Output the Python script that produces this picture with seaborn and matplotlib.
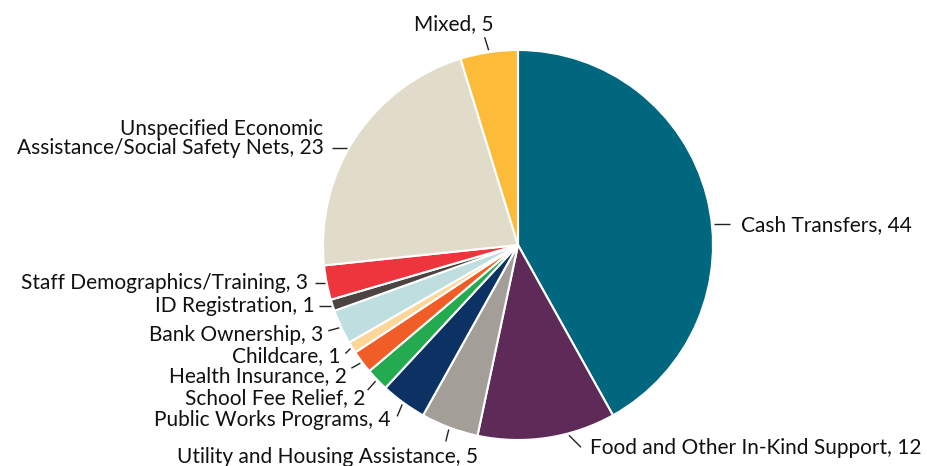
import numpy as np
import matplotlib
matplotlib.use("Agg")
import matplotlib.pyplot as plt
import seaborn as sns

# ---- data (clockwise from 12 o'clock) ----
categories = [
    "Cash Transfers",
    "Food and Other In-Kind Support",
    "Utility and Housing Assistance",
    "Public Works Programs",
    "School Fee Relief",
    "Health Insurance",
    "Childcare",
    "Bank Ownership",
    "ID Registration",
    "Staff Demographics/Training",
    "Unspecified Economic\nAssistance/Social Safety Nets",
    "Mixed",
]
values = [44, 12, 5, 4, 2, 2, 1, 3, 1, 3, 23, 5]
colors = [
    "#00677F", "#5E2A57", "#A39F98", "#0B3263", "#24AA4F", "#F15D27",
    "#FDD699", "#BEDEE0", "#4C4441", "#EE353E", "#E1DCCA", "#FDBB3A",
]

# ---- label layout (pixels): angle override, leader vector, text offset, align ----
layout = [
    (6.0,   (16, 0),   (11, 6.5),  "left"),
    (-75.0, (12, 12),  (9, 7),     "left"),
    (None,  (-3, 12),  (32, 22),   "right"),
    (None,  (-5, 12),  (-7, 10),   "right"),
    (None,  (-8, 9),   (-2, 14),   "right"),
    (None,  (-9, 5),   (-4, 14),   "right"),
    (None,  (-5, 5),   (-5, 9),    "right"),
    (None,  (-11, 3),  (-5, 10),   "right"),
    (None,  (-12, 0),  (-4, 6),    "right"),
    (None,  (-10, 0),  (-7, 6),    "right"),
    (150.5, (-15, 0),  (-8, 6),    "right"),
    (None,  (-4, -13), (9, -7),    "right"),
]

sns.set_theme(style="white")
plt.rcParams["font.family"] = ["Lato", "DejaVu Sans"]

W, H = 927, 466
cx, cy, R = 518, 245, 195

fig = plt.figure(figsize=(W / 100, H / 100), dpi=100)
ax = fig.add_axes([0, 0, 1, 1])

palette = sns.color_palette(colors)
ax.pie(values, colors=palette, startangle=-90, counterclock=True,
       center=(cx, cy), radius=R,
       wedgeprops=dict(edgecolor="white", linewidth=1.5))
ax.set_xlim(0, W)
ax.set_ylim(H, 0)
ax.set_aspect("equal")
ax.axis("off")

total = float(sum(values))
cum = np.concatenate([[0], np.cumsum(values)])
for i, (cat, val) in enumerate(zip(categories, values)):
    mid = 90 - (cum[i] + val / 2) / total * 360
    ang_o, (ldx, ldy), (tdx, tdy), ha = layout[i]
    a = np.deg2rad(ang_o if ang_o is not None else mid)
    x1 = cx + (R + 2) * np.cos(a)
    y1 = cy - (R + 2) * np.sin(a)
    x2, y2 = x1 + ldx, y1 + ldy
    ax.plot([x1, x2], [y1, y2], color="#222222", lw=1.0, solid_capstyle="butt")
    lines = f"{cat}, {val}".split("\n")
    for j, line in enumerate(reversed(lines)):
        ax.text(x2 + tdx, y2 + tdy - j * 18.5, line, ha=ha, va="baseline",
                fontsize=15, color="#111111")

fig.savefig("out.png", dpi=100)
